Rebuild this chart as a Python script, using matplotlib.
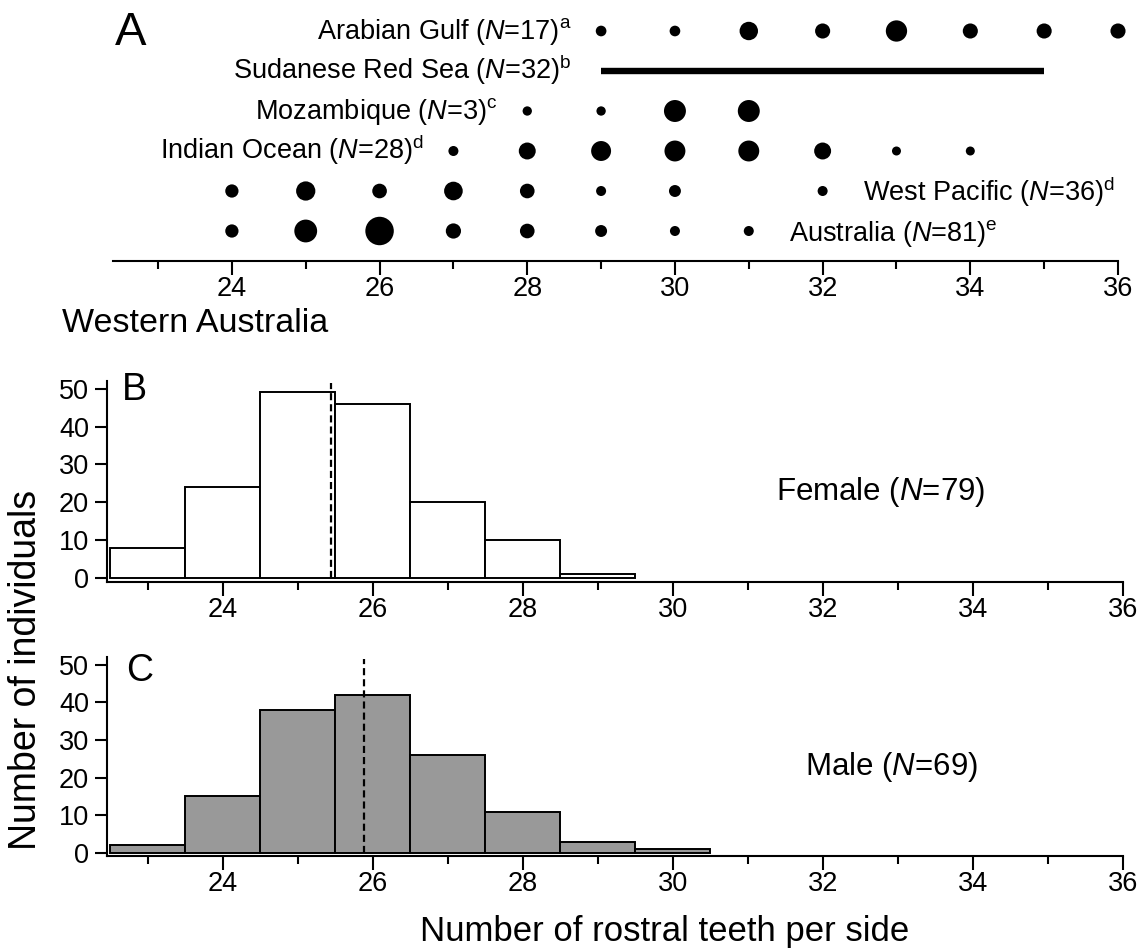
import matplotlib
matplotlib.use('Agg')
import matplotlib.pyplot as plt
import numpy as np

plt.rcParams['font.family'] = ['Liberation Sans', 'DejaVu Sans']
plt.rcParams['mathtext.fontset'] = 'custom'
plt.rcParams['mathtext.rm'] = 'Liberation Sans'
plt.rcParams['mathtext.it'] = 'Liberation Sans:italic'
plt.rcParams['mathtext.bf'] = 'Liberation Sans:bold'

# ---------------- Panel A data (relative frequency of tooth counts) ----------------
region_names = ['Arabian Gulf', 'Sudanese Red Sea', 'Mozambique', 'Indian Ocean', 'West Pacific', 'Australia']
region_n = [17, 32, 3, 28, 36, 81]
region_note = ['a', 'b', 'c', 'd', 'd', 'e']

arabian_teeth = [29, 30, 31, 32, 33, 34, 35, 36]
arabian_freq = [5.9, 5.9, 17.6, 11.8, 23.5, 11.8, 11.8, 11.8]
sudanese_range = [29, 35]
mozambique_teeth = [28, 29, 30, 31]
mozambique_freq = [4.5, 4.5, 25.0, 25.0]
indian_teeth = [27, 28, 29, 30, 31, 32, 33, 34]
indian_freq = [5.2, 14.9, 20.6, 22.7, 22.7, 14.9, 4.2, 4.2]
wpac_teeth = [24, 25, 26, 27, 28, 29, 30, 32]
wpac_freq = [9.1, 19.2, 11.1, 18.0, 11.1, 5.2, 7.4, 5.2]
aus_teeth = [24, 25, 26, 27, 28, 29, 30, 31]
aus_freq = [9.1, 27.0, 42.0, 12.0, 11.1, 7.4, 5.2, 5.2]

# ---------------- Panels B, C data (Western Australia histograms) ----------------
female_teeth = [23, 24, 25, 26, 27, 28, 29]
female_counts = [8, 24, 49, 46, 20, 10, 1]
male_teeth = [23, 24, 25, 26, 27, 28, 29, 30]
male_counts = [2, 15, 38, 42, 26, 11, 3, 1]
female_mean = 25.45
male_mean = 25.88
female_n = 79
male_n = 69

xticks_major = [24, 26, 28, 30, 32, 34, 36]
xticks_minor = [23, 25, 27, 29, 31, 33, 35]
yticks_hist = [0, 10, 20, 30, 40, 50]

W, H = 1142, 950
fig = plt.figure(figsize=(W / 100, H / 100), dpi=100)

def fx(px):
    return px / W

def fy(py):
    return 1 - py / H

TICK_FS = 19.5
SPINE_LW = 1.5

# ---------------- Panel A ----------------
axA = fig.add_axes([fx(113), fy(261), fx(1118) - fx(113), fy(0) - fy(261)])
axA.set_xlim(22.39, 36)
axA.set_ylim(-0.75, 5.775)
rows = {name: 5 - i for i, name in enumerate(region_names)}
SCALE = 10.0

def label(i):
    return r'%s ($\mathit{N}$=%d)$^{\mathrm{%s}}$' % (region_names[i], region_n[i], region_note[i])

axA.scatter(arabian_teeth, [rows['Arabian Gulf']] * len(arabian_teeth),
            s=np.array(arabian_freq) * SCALE, color='black', linewidths=0, clip_on=False)
axA.plot(sudanese_range, [rows['Sudanese Red Sea']] * 2, color='black', lw=4.6,
         solid_capstyle='butt')
axA.scatter(mozambique_teeth, [rows['Mozambique']] * len(mozambique_teeth),
            s=np.array(mozambique_freq) * SCALE, color='black', linewidths=0)
axA.scatter(indian_teeth, [rows['Indian Ocean']] * len(indian_teeth),
            s=np.array(indian_freq) * SCALE, color='black', linewidths=0)
axA.scatter(wpac_teeth, [rows['West Pacific']] * len(wpac_teeth),
            s=np.array(wpac_freq) * SCALE, color='black', linewidths=0)
axA.scatter(aus_teeth, [rows['Australia']] * len(aus_teeth),
            s=np.array(aus_freq) * SCALE, color='black', linewidths=0)

first_x = [arabian_teeth[0], sudanese_range[0], mozambique_teeth[0], indian_teeth[0]]
for i in range(4):
    axA.annotate(label(i), xy=(first_x[i], rows[region_names[i]]), xytext=(-21, -6),
                 textcoords='offset points', ha='right', va='baseline', fontsize=TICK_FS)
last_x = [wpac_teeth[-1], aus_teeth[-1]]
for j, i in enumerate([4, 5]):
    axA.annotate(label(i), xy=(last_x[j], rows[region_names[i]]), xytext=(29, -7),
                 textcoords='offset points', ha='left', va='baseline', fontsize=TICK_FS)

for s in ['top', 'right', 'left']:
    axA.spines[s].set_visible(False)
axA.spines['bottom'].set_linewidth(SPINE_LW)
axA.set_yticks([])
axA.set_xticks(xticks_major)
axA.set_xticks(xticks_minor, minor=True)
axA.tick_params(axis='x', which='major', direction='out', length=10, width=1.5,
                labelsize=TICK_FS, pad=1)
axA.tick_params(axis='x', which='minor', direction='out', length=5.5, width=1.5)
axA.patch.set_visible(False)

# ---------------- Panels B & C ----------------
def hist_panel(rect, teeth, counts, mean, color, ylim):
    ax = fig.add_axes(rect)
    ax.bar(teeth, counts, width=1.0, color=color, edgecolor='black', linewidth=1.4)
    ax.plot([mean, mean], [0, 51.5], color='black', lw=1.6, ls=(0, (3.2, 1.8)))
    ax.set_xlim(22.46, 36)
    ax.set_ylim(*ylim)
    for s in ['top', 'right']:
        ax.spines[s].set_visible(False)
    for s in ['left', 'bottom']:
        ax.spines[s].set_linewidth(SPINE_LW)
    ax.set_xticks(xticks_major)
    ax.set_xticks(xticks_minor, minor=True)
    ax.set_yticks(yticks_hist)
    ax.tick_params(axis='x', which='major', direction='out', length=10, width=1.5,
                   labelsize=TICK_FS, pad=1)
    ax.tick_params(axis='x', which='minor', direction='out', length=5.5, width=1.5)
    ax.tick_params(axis='y', which='major', direction='out', length=9, width=1.5,
                   labelsize=TICK_FS, pad=4)
    return ax

axB = hist_panel([fx(107), fy(582), fx(1123) - fx(107), fy(381) - fy(582)],
                 female_teeth, female_counts, female_mean, 'white', (-1, 52))
axC = hist_panel([fx(107), fy(856), fx(1123) - fx(107), fy(657) - fy(856)],
                 male_teeth, male_counts, male_mean, '#999999', (-0.8, 52))

# ---------------- Texts ----------------
fig.text(fx(115), fy(45), 'A', fontsize=34, ha='left', va='baseline')
fig.text(fx(62), fy(332), 'Western Australia', fontsize=24.5, ha='left', va='baseline')
fig.text(fx(122), fy(400), 'B', fontsize=27, ha='left', va='baseline')
fig.text(fx(126), fy(681), 'C', fontsize=27, ha='left', va='baseline')
fig.text(fx(776), fy(492), r'Female ($\mathit{N}$=%d)' % female_n, fontsize=22.5,
         ha='left', va='center')
fig.text(fx(805), fy(767), r'Male ($\mathit{N}$=%d)' % male_n, fontsize=22.5,
         ha='left', va='center')
fig.text(fx(665), fy(932), 'Number of rostral teeth per side', fontsize=25,
         ha='center', va='center')
fig.text(fx(26), fy(670), 'Number of individuals', fontsize=27, rotation=90,
         ha='center', va='center')

fig.savefig('out.png', dpi=100)
